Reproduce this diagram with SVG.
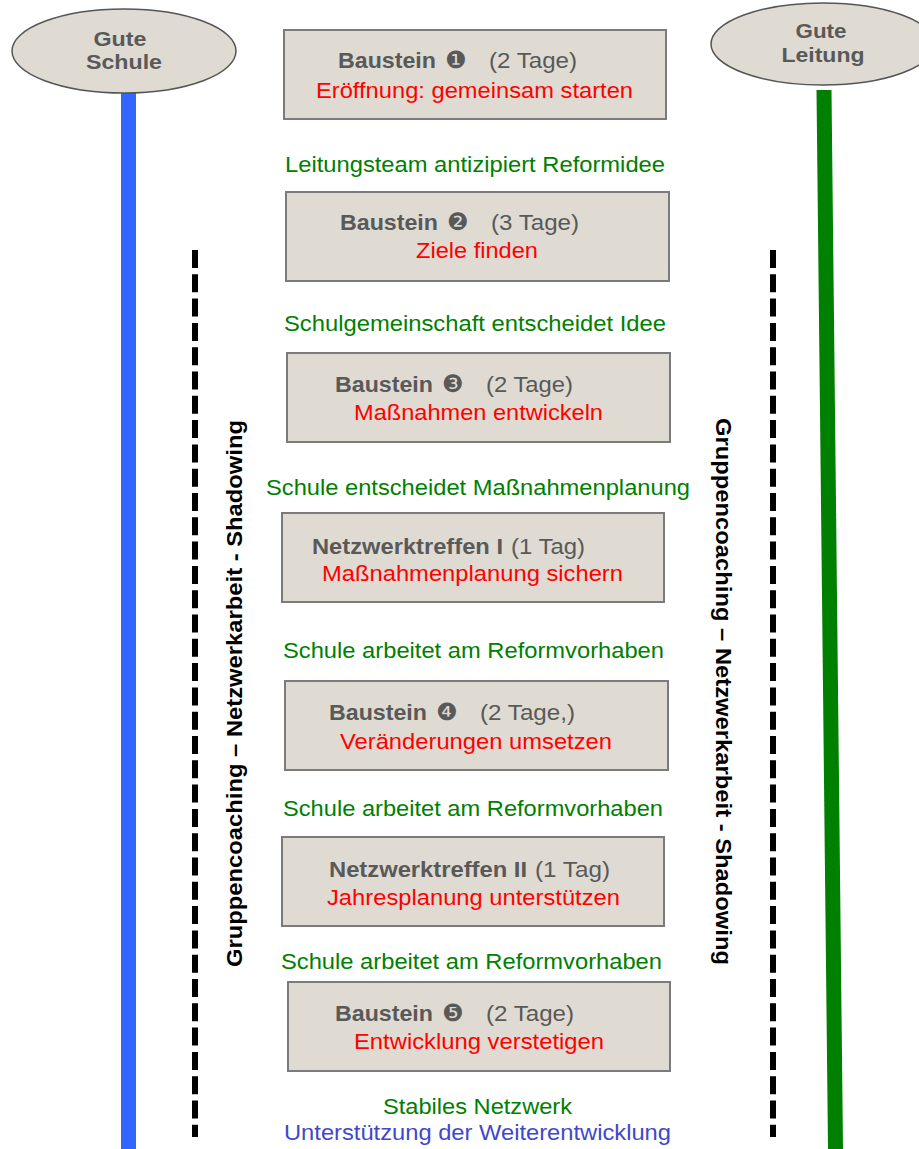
<svg xmlns="http://www.w3.org/2000/svg" width="919" height="1149" viewBox="0 0 919 1149">
<style>
text{font-family:"Liberation Sans",Arial,sans-serif;font-size:22px}
.box{fill:#dfdbd2;stroke:#7b7b7b;stroke-width:2}
.ell{fill:#dfdbd2;stroke:#555;stroke-width:1.5}
.h{fill:#595959;font-weight:bold}
.e{font-size:20px}
.g{fill:#595959}
.bul{fill:#595959;font-family:"DejaVu Sans",sans-serif;font-size:24px}
.r{fill:#ff0000}
.gr{fill:#008000}
.bl{fill:#3f48cc}
.vt{fill:#000;font-weight:bold;font-size:22px}
.dash{stroke:#000;stroke-width:6;stroke-dasharray:18 6.3;fill:none}
</style>
<rect width="919" height="1149" fill="#fff"/>
<g id="lines">
<line x1="128.5" y1="92" x2="128.5" y2="1149" stroke="#3366ff" stroke-width="15"/>
<line x1="824" y1="90" x2="835.5" y2="1149" stroke="#008000" stroke-width="15"/>
<line class="dash" x1="195" y1="250" x2="195" y2="1137"/>
<line class="dash" x1="773" y1="250" x2="773" y2="1137"/>
</g>
<g id="gute-schule">
<ellipse class="ell" cx="124" cy="51" rx="112" ry="42"/>
<text class="h e" x="120" y="46" text-anchor="middle" textLength="53" lengthAdjust="spacingAndGlyphs">Gute</text>
<text class="h e" x="124" y="69" text-anchor="middle" textLength="76" lengthAdjust="spacingAndGlyphs">Schule</text>
</g>
<g id="gute-leitung">
<ellipse class="ell" cx="823" cy="44" rx="112" ry="41"/>
<text class="h e" x="821" y="38" text-anchor="middle" textLength="51" lengthAdjust="spacingAndGlyphs">Gute</text>
<text class="h e" x="823" y="62" text-anchor="middle" textLength="83" lengthAdjust="spacingAndGlyphs">Leitung</text>
</g>
<g id="side-left">
<text class="vt" transform="translate(242,967) rotate(-90)" textLength="547" lengthAdjust="spacingAndGlyphs">Gruppencoaching – Netzwerkarbeit - Shadowing</text>
</g>
<g id="side-right">
<text class="vt" transform="translate(716,418) rotate(90)" textLength="547" lengthAdjust="spacingAndGlyphs">Gruppencoaching – Netzwerkarbeit - Shadowing</text>
</g>
<g id="baustein1">
<rect class="box" x="284" y="30" width="382" height="89"/>
<text class="h" x="338" y="68" textLength="98" lengthAdjust="spacingAndGlyphs">Baustein</text>
<text class="bul" x="445" y="68">❶</text>
<text class="g" x="489" y="68" textLength="88" lengthAdjust="spacingAndGlyphs">(2 Tage)</text>
<text class="r" x="316" y="98" textLength="317" lengthAdjust="spacingAndGlyphs">Eröffnung: gemeinsam starten</text>
</g>
<g id="label1"><text class="gr" x="285" y="172" textLength="380" lengthAdjust="spacingAndGlyphs">Leitungsteam antizipiert Reformidee</text></g>
<g id="baustein2">
<rect class="box" x="286" y="192" width="383" height="89"/>
<text class="h" x="340" y="230" textLength="98" lengthAdjust="spacingAndGlyphs">Baustein</text>
<text class="bul" x="447" y="230">❷</text>
<text class="g" x="491" y="230" textLength="88" lengthAdjust="spacingAndGlyphs">(3 Tage)</text>
<text class="r" x="416" y="258" textLength="122" lengthAdjust="spacingAndGlyphs">Ziele finden</text>
</g>
<g id="label2"><text class="gr" x="284" y="331" textLength="382" lengthAdjust="spacingAndGlyphs">Schulgemeinschaft entscheidet Idee</text></g>
<g id="baustein3">
<rect class="box" x="287" y="353" width="383" height="89"/>
<text class="h" x="335" y="392" textLength="98" lengthAdjust="spacingAndGlyphs">Baustein</text>
<text class="bul" x="442" y="392">❸</text>
<text class="g" x="486" y="392" textLength="87" lengthAdjust="spacingAndGlyphs">(2 Tage)</text>
<text class="r" x="354" y="420" textLength="249" lengthAdjust="spacingAndGlyphs">Maßnahmen entwickeln</text>
</g>
<g id="label3"><text class="gr" x="266" y="495" textLength="424" lengthAdjust="spacingAndGlyphs">Schule entscheidet Maßnahmenplanung</text></g>
<g id="netzwerktreffen1">
<rect class="box" x="282" y="513" width="382" height="89"/>
<text class="h" x="312" y="554" textLength="191" lengthAdjust="spacingAndGlyphs">Netzwerktreffen I</text>
<text class="g" x="511" y="554" textLength="74" lengthAdjust="spacingAndGlyphs">(1 Tag)</text>
<text class="r" x="322" y="581" textLength="301" lengthAdjust="spacingAndGlyphs">Maßnahmenplanung sichern</text>
</g>
<g id="label4"><text class="gr" x="283" y="658" textLength="381" lengthAdjust="spacingAndGlyphs">Schule arbeitet am Reformvorhaben</text></g>
<g id="baustein4">
<rect class="box" x="285" y="681" width="383" height="89"/>
<text class="h" x="329" y="720" textLength="98" lengthAdjust="spacingAndGlyphs">Baustein</text>
<text class="bul" x="436" y="720">❹</text>
<text class="g" x="480" y="720" textLength="95" lengthAdjust="spacingAndGlyphs">(2 Tage,)</text>
<text class="r" x="340" y="749" textLength="272" lengthAdjust="spacingAndGlyphs">Veränderungen umsetzen</text>
</g>
<g id="label5"><text class="gr" x="283" y="816" textLength="380" lengthAdjust="spacingAndGlyphs">Schule arbeitet am Reformvorhaben</text></g>
<g id="netzwerktreffen2">
<rect class="box" x="282" y="837" width="382" height="89"/>
<text class="h" x="329" y="877" textLength="198" lengthAdjust="spacingAndGlyphs">Netzwerktreffen II</text>
<text class="g" x="535" y="877" textLength="75" lengthAdjust="spacingAndGlyphs">(1 Tag)</text>
<text class="r" x="327" y="905" textLength="293" lengthAdjust="spacingAndGlyphs">Jahresplanung unterstützen</text>
</g>
<g id="label6"><text class="gr" x="281" y="969" textLength="381" lengthAdjust="spacingAndGlyphs">Schule arbeitet am Reformvorhaben</text></g>
<g id="baustein5">
<rect class="box" x="288" y="982" width="382" height="89"/>
<text class="h" x="335" y="1021" textLength="98" lengthAdjust="spacingAndGlyphs">Baustein</text>
<text class="bul" x="442" y="1021">❺</text>
<text class="g" x="486" y="1021" textLength="88" lengthAdjust="spacingAndGlyphs">(2 Tage)</text>
<text class="r" x="354" y="1049" textLength="250" lengthAdjust="spacingAndGlyphs">Entwicklung verstetigen</text>
</g>
<g id="label7">
<text class="gr" x="383" y="1114" textLength="189" lengthAdjust="spacingAndGlyphs">Stabiles Netzwerk</text>
<text class="bl" x="284" y="1140" textLength="387" lengthAdjust="spacingAndGlyphs">Unterstützung der Weiterentwicklung</text>
</g>
</svg>
